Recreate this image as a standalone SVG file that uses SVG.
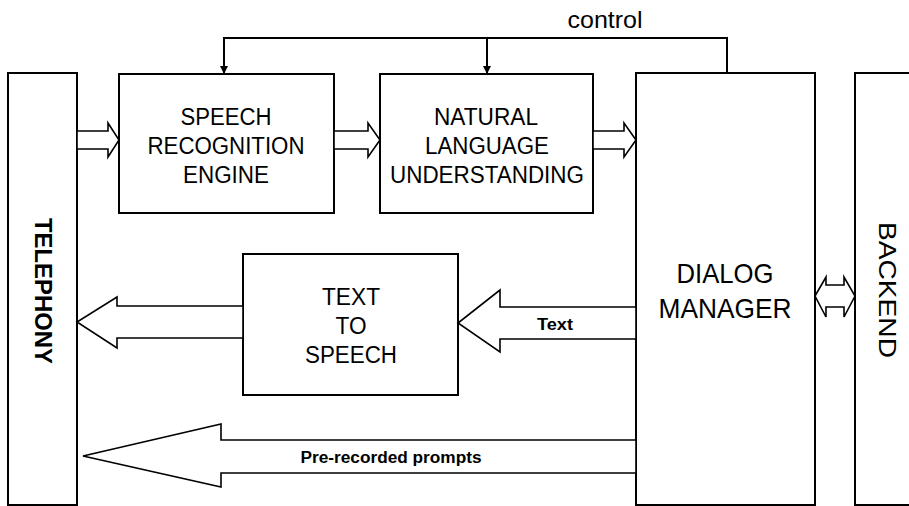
<svg xmlns="http://www.w3.org/2000/svg" width="909" height="506" viewBox="0 0 909 506">
<defs>
<marker id="ah" viewBox="0 0 10 10" refX="10" refY="5" markerWidth="8" markerHeight="10" markerUnits="userSpaceOnUse" orient="auto">
<path d="M0,0 L10,5 L0,10 z" fill="#000"/>
</marker>
<style>
.box{fill:#fff;stroke:#000;stroke-width:2}
.t{font-family:"Liberation Sans",Arial,sans-serif;font-size:23px;fill:#000;text-anchor:middle}
.big{font-size:28px}
.b{font-weight:bold}
.ha{fill:#fff;stroke:#000;stroke-width:1.6;stroke-linejoin:miter}
.ln{fill:none;stroke:#000;stroke-width:2}
</style>
</defs>
<rect width="909" height="506" fill="#fff"/>
<g id="telephony">
<rect class="box" x="8" y="73" width="69" height="432"/>
<text class="t b" transform="translate(35,291) rotate(90)" textLength="146" lengthAdjust="spacingAndGlyphs" style="font-size:23px">TELEPHONY</text>
</g>
<g id="sre">
<rect class="box" x="119" y="74" width="215" height="139"/>
<text class="t" x="226" y="125" textLength="91" lengthAdjust="spacingAndGlyphs">SPEECH</text>
<text class="t" x="226" y="154" textLength="157" lengthAdjust="spacingAndGlyphs">RECOGNITION</text>
<text class="t" x="226" y="183" textLength="86" lengthAdjust="spacingAndGlyphs">ENGINE</text>
</g>
<g id="nlu">
<rect class="box" x="380" y="74" width="213" height="139"/>
<text class="t" x="486" y="125" textLength="104" lengthAdjust="spacingAndGlyphs">NATURAL</text>
<text class="t" x="487" y="154" textLength="124" lengthAdjust="spacingAndGlyphs">LANGUAGE</text>
<text class="t" x="487" y="183" textLength="194" lengthAdjust="spacingAndGlyphs">UNDERSTANDING</text>
</g>
<g id="tts">
<rect class="box" x="243" y="254" width="215" height="141"/>
<text class="t" x="351" y="305" textLength="58" lengthAdjust="spacingAndGlyphs">TEXT</text>
<text class="t" x="351" y="334" textLength="31" lengthAdjust="spacingAndGlyphs">TO</text>
<text class="t" x="351" y="363" textLength="92" lengthAdjust="spacingAndGlyphs">SPEECH</text>
</g>
<g id="dialog">
<rect class="box" x="636" y="73" width="179" height="432"/>
<text class="t big" x="725" y="283" textLength="97" lengthAdjust="spacingAndGlyphs">DIALOG</text>
<text class="t big" x="725" y="318" textLength="133" lengthAdjust="spacingAndGlyphs">MANAGER</text>
</g>
<g id="backend">
<rect class="box" x="855" y="73" width="60" height="432"/>
<text class="t" transform="translate(879,290) rotate(90)" textLength="136" lengthAdjust="spacingAndGlyphs" style="font-size:24px">BACKEND</text>
</g>
<g id="connectors">
<path class="ln" d="M224,72 V38 H727 V73"/>
<line class="ln" x1="224" y1="60" x2="224" y2="74" marker-end="url(#ah)"/>
<line class="ln" x1="487" y1="38" x2="487" y2="74" marker-end="url(#ah)"/>
<text class="t" x="605" y="28" textLength="75" lengthAdjust="spacingAndGlyphs" style="font-size:24px">control</text>
<polygon class="ha" points="77,131 108,131 108,123 119,140 108,157 108,149 77,149"/>
<polygon class="ha" points="334,131 368,131 368,123 380,140 368,157 368,149 334,149"/>
<polygon class="ha" points="593,131 624,131 624,123 636,140 624,157 624,149 593,149"/>
<polygon class="ha" points="636,307 500,307 500,290 458,323 500,352 500,339 636,339"/>
<text class="t b" x="555" y="330" textLength="36" lengthAdjust="spacingAndGlyphs" style="font-size:16px">Text</text>
<polygon class="ha" points="243,306 117,306 117,297 77,322 117,348 117,338 243,338"/>
<polygon class="ha" points="636,440 221,440 221,424 83,456 221,487 221,473 636,473"/>
<text class="t b" x="391" y="463" textLength="181" lengthAdjust="spacingAndGlyphs" style="font-size:16px">Pre-recorded prompts</text>
<polygon class="ha" points="815,296 826,277 826,285 844,285 844,277 855,296 844,317 844,307 826,307 826,317"/>
</g>
</svg>
